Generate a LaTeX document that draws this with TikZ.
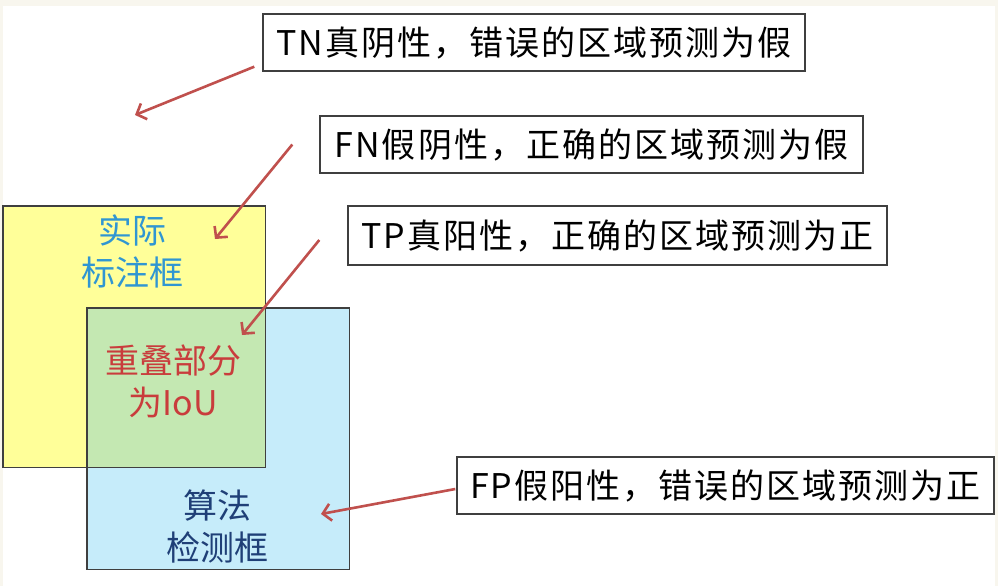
\documentclass[tikz,border=0pt]{standalone}
\usepackage{fontspec}
\setmainfont{Noto Sans CJK SC}
\usepackage{xcolor}
\usetikzlibrary{arrows.meta,positioning,calc}
\definecolor{pagebg}{HTML}{F8F6EE}
\definecolor{boxline}{HTML}{3F3F3F}
\definecolor{gtyellow}{HTML}{FFFF99}
\definecolor{detblue}{HTML}{C6ECFA}
\definecolor{iougreen}{HTML}{C4E8B2}
\definecolor{gtblue}{HTML}{3096D2}
\definecolor{ioured}{HTML}{C93C3C}
\definecolor{detnavy}{HTML}{1F3F77}
\definecolor{arrowred}{HTML}{C0504D}

\begin{document}
\begin{tikzpicture}[
  x=1pt, y=-1pt,
  font=\fontsize{34}{42}\selectfont,
  zone/.style={rectangle, inner sep=0pt, minimum width=262, minimum height=261},
  frame/.style={draw=boxline, line width=1.4pt},
  lbl/.style={rectangle, draw=boxline, line width=1.4pt, fill=white,
              inner sep=0pt, minimum height=57,
              font=\fontsize{34}{42}\selectfont\addfontfeatures{LetterSpace=6}},
  ptr/.style={draw=arrowred, line width=2.6pt,
              -{Straight Barb[length=8pt,width=17pt]}},
]
  % page
  \fill[pagebg] (0,0) rectangle (998,586);
  \fill[white] (3,6) rectangle (995,586);
  \useasboundingbox (0,0) rectangle (998,586);
  % ground truth and detection boxes
  \node[zone, fill=gtyellow] (gt)  at (134,336.5) {};
  \node[zone, fill=detblue]  (det) at (218,438.5) {};
  \fill[iougreen] (det.north west) rectangle (gt.south east);
  \draw[frame] (gt.north west) rectangle (gt.south east);
  \draw[frame] (det.north west) rectangle (det.south east);
  \node[text=gtblue, align=center]  (gt-text)  at (132,251) {实际\\标注框};
  \node[text=ioured, align=center]  (iou-text) at (173,381) {重叠部分\\为IoU};
  \node[text=detnavy, align=center] (det-text) at (217,526) {算法\\检测框};
  % labels
  \node[lbl, minimum width=542] (tn) at (534,42.5)  {TN真阴性，错误的区域预测为假};
  \node[lbl, minimum width=543] (fn) at (591.5,144.5) {FN假阴性，正确的区域预测为假};
  \node[lbl, minimum width=539, minimum height=59] (tp) at (617.5,235.5) {TP真阳性，正确的区域预测为正};
  \node[lbl, minimum width=537] (fp) at (725.5,485.5) {FP假阳性，错误的区域预测为正};
  % pointers
  \coordinate (tn-end) at (135,115);
  \coordinate (fn-end) at (215,239);
  \coordinate (tp-end) at (242,335);
  \coordinate (fp-end) at (321,514);
  \draw[ptr] ([shift={(-8,-5)}]tn.south west) -- (tn-end);
  \draw[ptr] ([shift={(-27,0)}]fn.west) -- (fn-end);
  \draw[ptr] ([shift={(-28,4.5)}]tp.west) -- (tp-end);
  \draw[ptr] ([shift={(-1,3.5)}]fp.west) -- (fp-end);
\end{tikzpicture}
\end{document}
